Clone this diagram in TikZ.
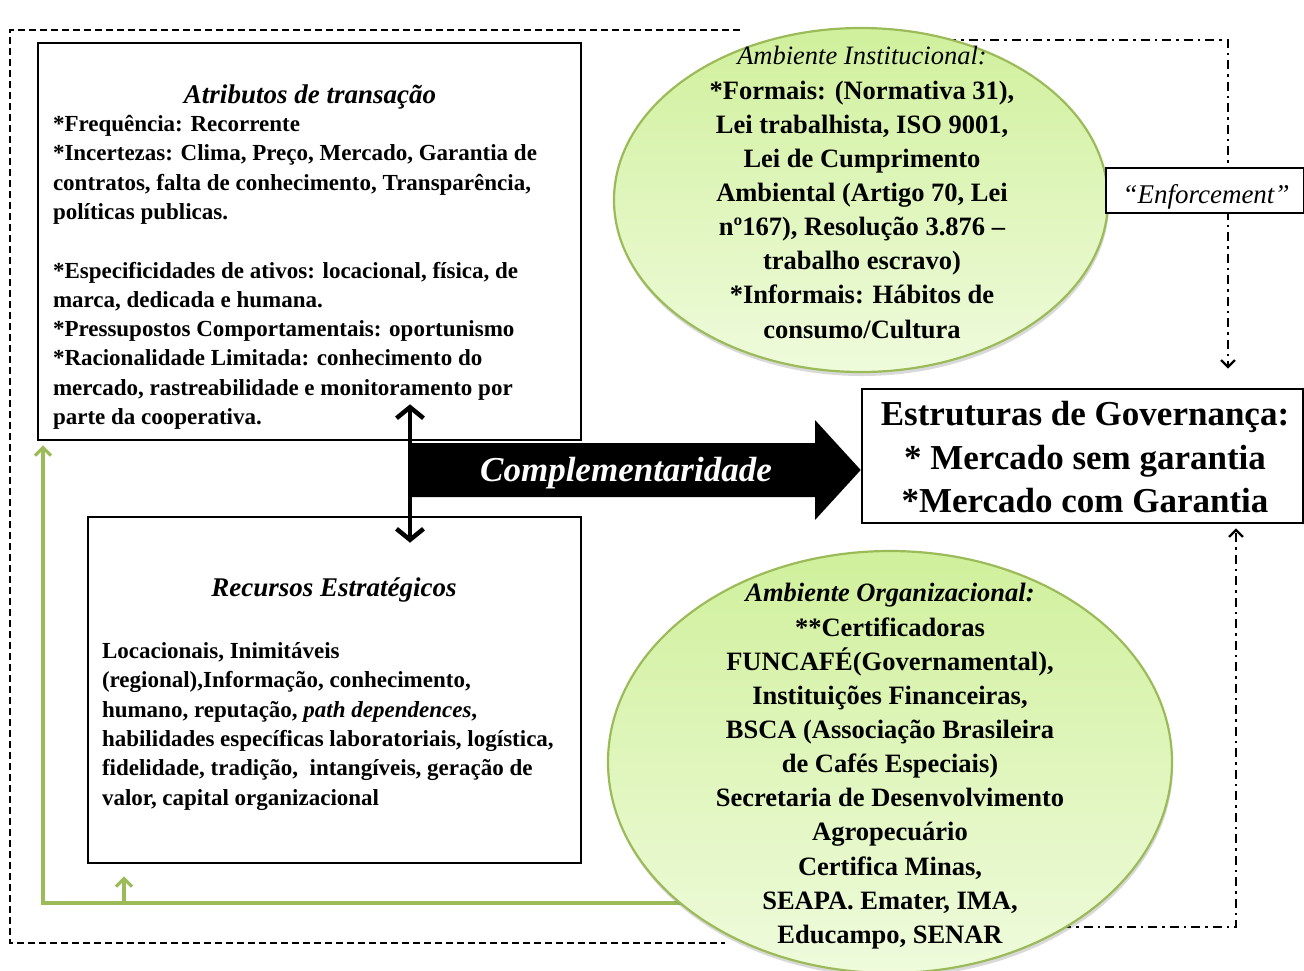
\documentclass[tikz,border=0pt]{standalone}
\usepackage{fontspec}
\setmainfont{Liberation Serif}
\usetikzlibrary{arrows.meta,shapes.geometric,shadows,calc}
\pgfdeclarelayer{bg}
\pgfsetlayers{bg,main}

\definecolor{leaf}{HTML}{9BBB59}
\definecolor{ellTop}{HTML}{D0F09C}
\definecolor{ellBot}{HTML}{EFFBDC}

\newcommand\bodyfont{\fontsize{23}{29.3}\selectfont\bfseries}
\newcommand\titlefont{\fontsize{27}{32}\selectfont\bfseries\itshape}
\newcommand\bubblefont{\fontsize{26.5}{34.15}\selectfont\bfseries}
\newcommand\govfont{\fontsize{35}{43.6}\selectfont\bfseries}

\tikzset{
  frame/.style={draw=black, line width=2.6pt, fill=white, inner sep=0pt},
  bubble/.style={ellipse, draw=leaf, line width=2.2pt, inner sep=0pt,
    top color=ellTop, bottom color=ellBot,
    drop shadow={opacity=0.3, shadow xshift=1pt, shadow yshift=-4pt}},
  words/.style={inner sep=0pt, outer sep=0pt},
  outline/.style={line width=2.3pt, dash pattern=on 7pt off 4pt},
  dashdot/.style={line width=2.3pt, dash pattern=on 9pt off 5pt on 2.5pt off 5pt},
  greenlink/.style={draw=leaf, line width=3.2pt},
  greentip/.style={-{Straight Barb[length=8pt,width=16pt]}},
  dashtip/.style={-{Straight Barb[length=7pt,width=14pt]}},
  bothtips/.style={{Straight Barb[length=11pt,width=27pt]}-{Straight Barb[length=11pt,width=27pt]}},
}

\begin{document}
\begin{tikzpicture}[x=1pt, y=-1pt]
\useasboundingbox (0,0) rectangle (1304,970);

% outer dashed frame around the firm-level blocks
\draw[outline] (740,30) -- (10,30) -- (10,943) -- (725,943);

% main blocks
\node[frame, minimum width=543pt, minimum height=397pt] (atr) at (309.5,241.5) {};
\node[frame, minimum width=493pt, minimum height=346pt] (rec) at (334.5,690) {};
\node[frame, minimum width=441pt, minimum height=134pt] (gov) at (1082.5,456) {};

% environments
\node[bubble, minimum width=494pt, minimum height=344pt] (inst) at (861,200) {};
\node[bubble, minimum width=564pt, minimum height=422pt] (org) at (890,762) {};

% enforcement label box on the dash-dot link
\node[frame, minimum width=198pt, minimum height=45pt] (enf) at (1205,190.5) {};

% corner points of the links
\coordinate (c1) at (1228,40);
\coordinate (c2) at (1236,927);
\coordinate (g1) at (43,903);
\coordinate (g2) at (124,903);
\coordinate (da) at (410,470);

\begin{pgfonlayer}{bg}
  \draw[dashdot, dashtip] (inst.center |- c1) -- (c1) -- ([yshift=19pt]gov.north -| c1);
  \draw[dashdot, dashtip] (org.center |- c2) -- (c2) -- ([yshift=-4pt]gov.south -| c2);
  \draw[greenlink, greentip] (org.center |- g1) -- (g1) -- ([yshift=-4pt]atr.south -| g1);
  \draw[greenlink, greentip] (g2) -- ([yshift=-12pt]rec.south -| g2);
\end{pgfonlayer}

% complementarity arrow
\fill[black] (412,443) -- (815,443) -- (815,420) -- (gov.west |- da) -- (815,520)
  -- (815,497) -- (412,497) -- cycle;
\node[words, anchor=base, text=white, font=\fontsize{35}{40}\selectfont\bfseries\itshape]
  (comp) at (626,481) {Complementaridade};

% link between transaction attributes and strategic resources
\draw[line width=4.5pt, bothtips] ([yshift=37pt]atr.south -| da) -- ([yshift=-27pt]rec.north -| da);

% texts
\node[words, anchor=base, font=\titlefont] (atrT) at (310,103) {Atributos de transação};
\node[words, anchor=north west, align=left, font=\bodyfont] (atrB) at (53,111) {\strut*Frequência: Recorrente\\{}*Incertezas: Clima, Preço, Mercado, Garantia de\\contratos, falta de conhecimento, Transparência,\\políticas publicas.\\\mbox{}\\{}*Especificidades de ativos: locacional, física, de\\marca, dedicada e humana.\\{}*Pressupostos Comportamentais: oportunismo\\{}*Racionalidade Limitada: conhecimento do\\mercado, rastreabilidade e monitoramento por\\parte da cooperativa.};

\node[words, anchor=base, font=\titlefont] (recT) at (334,596) {Recursos Estratégicos};
\node[words, anchor=north west, align=left, font=\bodyfont] (recB) at (102,638) {\strut Locacionais, Inimitáveis\\(regional),Informação, conhecimento,\\humano, reputação, \textit{path dependences},\\habilidades específicas laboratoriais, logística,\\fidelidade, tradição, \ intangíveis, geração de\\valor, capital organizacional};

\node[words, anchor=north, align=center, font=\bubblefont] (instT) at (862,41) {\strut\textmd{\textit{Ambiente Institucional:}}\\{}*Formais: (Normativa 31),\\Lei trabalhista, ISO 9001,\\Lei de Cumprimento\\Ambiental (Artigo 70, Lei\\nº167), Resolução 3.876 –\\trabalho escravo)\\{}*Informais: Hábitos de\\consumo/Cultura};

\node[words, anchor=north, align=center, font=\bubblefont] (orgT) at (890,578) {\strut\textit{Ambiente Organizacional:}\\{}**Certificadoras\\FUNCAFÉ(Governamental),\\Instituições Financeiras,\\BSCA (Associação Brasileira\\de Cafés Especiais)\\Secretaria de Desenvolvimento\\Agropecuário\\Certifica Minas,\\SEAPA. Emater, IMA,\\Educampo, SENAR};

\node[words, anchor=north, align=center, font=\govfont] (govT) at (1085,395) {\strut Estruturas de Governança:\\{}* Mercado sem garantia\\{}*Mercado com Garantia};

\node[words, anchor=base, font=\fontsize{27}{32}\selectfont\itshape] (enfT) at (1206,203) {“Enforcement”};
\end{tikzpicture}
\end{document}
